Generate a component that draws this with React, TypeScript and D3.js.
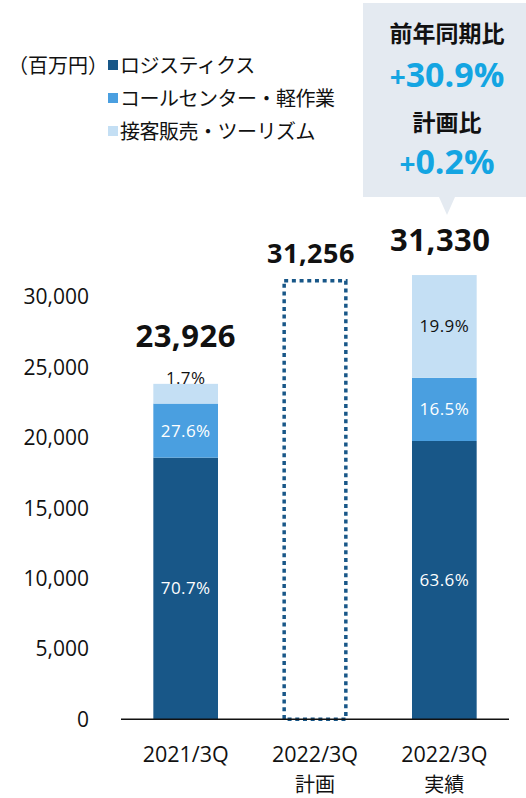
import React from "react";
import * as d3 from "d3";

const categories = ["2021/3Q", "2022/3Q|計画", "2022/3Q|実績"];
const seriesNames = ["ロジスティクス", "コールセンター・軽作業", "接客販売・ツーリズム"];
const logistics = [18590, 0, 19770];
const callCenter = [3840, 0, 4490];
const retail = [1400, 0, 7300];
const totals = [23926, 31256, 31330];
const totalLabels = ["23,926", "31,256", "31,330"];
const planIndex = 1;
const pctLogistics = ["70.7%", "", "63.6%"];
const pctCall = ["27.6%", "", "16.5%"];
const pctRetail = ["1.7%", "", "19.9%"];
const yTicks = [0, 5000, 10000, 15000, 20000, 25000, 30000];
const calloutTitles = ["前年同期比", "計画比"];
const calloutValues = ["30.9%", "0.2%"];

const colors = ["#185788", "#4a9fe0", "#c4dff4"];
const NUM_FONT = "'Open Sans', 'Noto Sans', sans-serif";
const CJK_FONT = "'Noto Sans CJK JP', 'Noto Sans', sans-serif";

export default function App() {
  const W = 526, H = 798;
  const x = d3.scaleBand<string>().domain(categories).range([121, 509]).paddingInner(0.5).paddingOuter(0.25);
  const y = d3.scaleLinear().domain([0, 30000]).range([719.3, 297]);
  const series = [logistics, callCenter, retail];
  const pcts = [pctLogistics, pctCall, pctRetail];
  const fmt = d3.format(",");
  const bw = x.bandwidth();
  const labelLift = [37, 16, 24];
  const labelSize = [31, 27, 31];

  return (
    <svg width={W} height={H} style={{ position: "absolute", left: 0, top: 0, background: "#fff" }}>
      {/* legend */}
      <text x={8} y={73} fontFamily={CJK_FONT} fontSize={20} fill="#111">（百万円）</text>
      {seriesNames.map((n, i) => (
        <g key={n}>
          <rect x={108} y={60 + i * 33} width={10} height={10} fill={colors[i]} />
          <text x={120} y={73 + i * 33} fontFamily={CJK_FONT} fontSize={20} letterSpacing={-0.5} fill="#111">{n}</text>
        </g>
      ))}

      {/* callout */}
      <path d={`M363,3 H526 V197 H455 L447,215 L439,197 H363 Z`} fill="#e4eaf1" />
      <text x={447} y={42} textAnchor="middle" fontFamily={CJK_FONT} fontWeight={700} fontSize={23} fill="#111">{calloutTitles[0]}</text>
      <text x={447} y={87} textAnchor="middle" fontFamily={NUM_FONT} fontWeight={700} fontSize={34} fill="#14a5e2">
        <tspan fontSize={28}>+</tspan>{calloutValues[0]}
      </text>
      <text x={447} y={131} textAnchor="middle" fontFamily={CJK_FONT} fontWeight={700} fontSize={23} fill="#111">{calloutTitles[1]}</text>
      <text x={447} y={174} textAnchor="middle" fontFamily={NUM_FONT} fontWeight={700} fontSize={34} fill="#14a5e2">
        <tspan fontSize={28}>+</tspan>{calloutValues[1]}
      </text>

      {/* y ticks */}
      {yTicks.map((t) => (
        <text key={t} x={89} y={y(t)} dy="0.35em" textAnchor="end" fontFamily={NUM_FONT} fontSize={21} fill="#111">{fmt(t)}</text>
      ))}

      {/* bars */}
      {categories.map((c, ci) => {
        const x0 = x(c)!;
        if (ci === planIndex) {
          return (
            <rect key={c} x={x0 + 1.5} y={y(totals[ci]) + 1.5} width={bw - 3} height={y(0) - y(totals[ci]) - 1.5}
              fill="none" stroke={colors[0]} strokeWidth={3.5} strokeDasharray="4 3.7" />
          );
        }
        let acc = 0;
        return (
          <g key={c}>
            {series.map((s, si) => {
              const v0 = acc; const v1 = acc + s[ci]; acc = v1;
              const top = y(v1), bot = y(v0);
              const h = bot - top;
              const cy = h < 25 ? top - 6 : (top + bot) / 2;
              return (
                <g key={si}>
                  <rect x={x0} y={top} width={bw} height={h} fill={colors[si]} />
                  <text x={x0 + bw / 2} y={cy} dy="0.35em" textAnchor="middle" fontFamily={NUM_FONT} fontSize={17}
                    letterSpacing={0.4} fill={si === 2 ? "#111" : "#fff"}>{pcts[si][ci]}</text>
                </g>
              );
            })}
          </g>
        );
      })}

      {/* total labels */}
      {categories.map((c, ci) => {
        const top = ci === planIndex ? y(totals[ci]) : y(d3.sum(series, (s) => s[ci]));
        return (
          <text key={c} x={x(c)! + bw / 2 + (ci === 0 ? 0 : -4)} y={top - labelLift[ci]} textAnchor="middle"
            fontFamily={NUM_FONT} fontWeight={700} fontSize={labelSize[ci]} letterSpacing={0.5} fill="#111">{totalLabels[ci]}</text>
        );
      })}

      {/* axis line */}
      <line x1={121} x2={509} y1={y(0)} y2={y(0)} stroke="#111" strokeWidth={1.5} />

      {/* category labels */}
      {categories.map((c) => {
        const parts = c.split("|");
        const cx = x(c)! + bw / 2;
        return (
          <g key={c}>
            <text x={cx} y={762} textAnchor="middle" fontFamily={NUM_FONT} fontSize={21.5} fill="#111">{parts[0]}</text>
            {parts[1] && <text x={cx} y={792} textAnchor="middle" fontFamily={CJK_FONT} fontSize={20} fill="#111">{parts[1]}</text>}
          </g>
        );
      })}
    </svg>
  );
}
